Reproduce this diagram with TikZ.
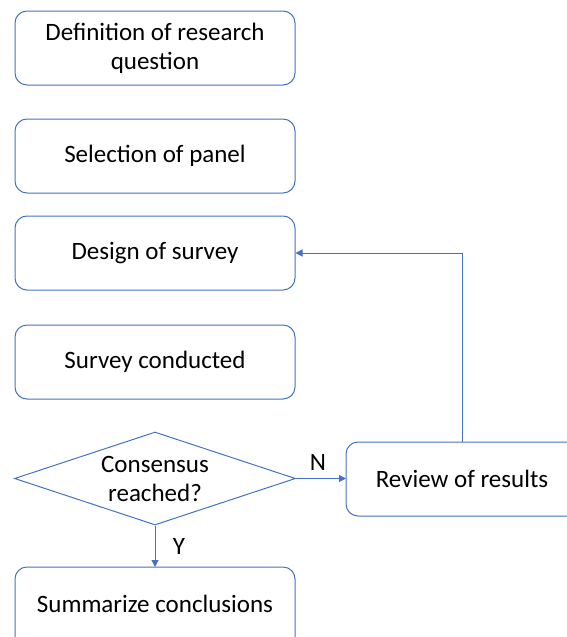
\documentclass[tikz,border=0pt]{standalone}
\usepackage{fontspec}
\setmainfont{Carlito}
\usetikzlibrary{shapes.geometric,arrows.meta}
\definecolor{lineblue}{HTML}{4472C4}
\tikzset{
  box/.style={draw=lineblue, line width=1pt, rounded corners=12pt, minimum width=280pt, minimum height=74pt, align=center, font=\fontsize{25}{29}\selectfont, inner sep=0pt},
  decision/.style={draw=lineblue, line width=1pt, diamond, minimum width=281pt, minimum height=93pt, aspect=3, align=center, font=\fontsize{25}{29}\selectfont, inner sep=0pt},
  conn/.style={draw=lineblue, line width=1pt, -{Triangle[length=7pt,width=7pt]}},
  lbl/.style={font=\fontsize{25}{29}\selectfont}
}
\begin{document}
\begin{tikzpicture}[x=1pt,y=-1pt]
\useasboundingbox (0,0) rectangle (567,637);
\begin{scope}
\clip (0,0) rectangle (567,637);
\node[box] (b1) at (155,48) {Definition of research\\question};
\node[box] (b2) at (155,156) {Selection of panel};
\node[box] (b3) at (155,253) {Design of survey};
\node[box] (b4) at (155,362) {Survey conducted};
\node[decision] (d) at (155,478.5) {Consensus\\reached?};
\draw[draw=lineblue, line width=1pt, rounded corners=12pt] (346,442) rectangle (600,516);
\node[lbl, anchor=center] (rev) at (462,479) {Review of results};
\coordinate (revL) at (346,478.5);
\coordinate (revT) at (462,442);
\draw[draw=lineblue, line width=1pt, rounded corners=12pt] (15,567) rectangle (295,670);
\node[lbl] (sum) at (155,604) {Summarize conclusions};
\coordinate (sumT) at (155,567);
\draw[conn] (d.east) -- (revL);
\draw[conn] (d.south) -- (sumT);
\draw[conn] (revT) |- (b3.east);
\node[lbl] (n) at (318,462) {N};
\node[lbl] (y) at (179,546) {Y};
\end{scope}
\end{tikzpicture}
\end{document}
